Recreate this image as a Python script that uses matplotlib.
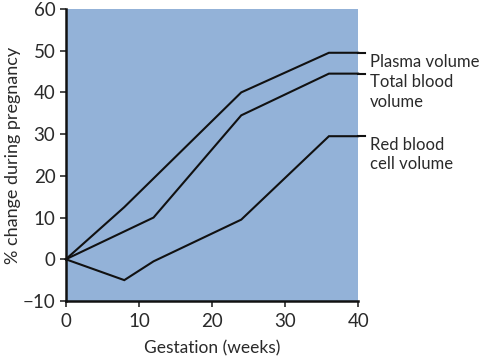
import matplotlib.pyplot as plt

# gestation weeks and % change for each series
plasma_weeks = [0, 8, 24, 36, 40]
plasma_vals = [0, 12.5, 40, 49.5, 49.5]
total_weeks = [0, 12, 24, 36, 40]
total_vals = [0, 10, 34.5, 44.5, 44.5]
red_weeks = [0, 8, 12, 24, 36, 40]
red_vals = [0, -5, -0.5, 9.5, 29.5, 29.5]
labels = ["Plasma volume", "Total blood\nvolume", "Red blood\ncell volume"]

BLUE = "#93b2d8"
TXT = "#2a2a2a"
plt.rcParams['font.family'] = ['Lato', 'DejaVu Sans']

fig = plt.figure(figsize=(4.84, 3.59), dpi=100)
ax = fig.add_axes([0.136, 0.1616, 0.604, 0.8134])
ax.set_facecolor(BLUE)

series = [(plasma_weeks, plasma_vals), (total_weeks, total_vals), (red_weeks, red_vals)]
for (wk, v), lab in zip(series, labels):
    ax.plot(wk, v, color="#111111", lw=1.5, clip_on=False, solid_joinstyle='miter')
    # short leader out to the label
    ax.plot([wk[-1], wk[-1] + 1.0], [v[-1], v[-1]], color="#111111", lw=1.5, clip_on=False)
    ax.text(wk[-1] + 1.6, v[-1] - 0.2, lab, va='top', ha='left', fontsize=12,
            color=TXT, linespacing=1.25)

ax.set_xlim(0, 40)
ax.set_ylim(-10, 60)
ax.set_xticks(range(0, 41, 10))
ax.set_yticks(range(-10, 61, 10))
ax.set_yticklabels(["\u221210" if t < 0 else str(t) for t in range(-10, 61, 10)])
for s in ['top', 'right']:
    ax.spines[s].set_visible(False)
for s in ['left', 'bottom']:
    ax.spines[s].set_linewidth(1.8)
    ax.spines[s].set_color("#111111")
ax.tick_params(direction='out', length=4, width=1.2, labelsize=13.5, colors=TXT)
ax.tick_params(axis='x', pad=5)
ax.set_xlabel("Gestation (weeks)", fontsize=12.5, color=TXT, labelpad=7)
ax.set_ylabel("% change during pregnancy", fontsize=13, color=TXT, labelpad=1)

fig.savefig("out.png")
